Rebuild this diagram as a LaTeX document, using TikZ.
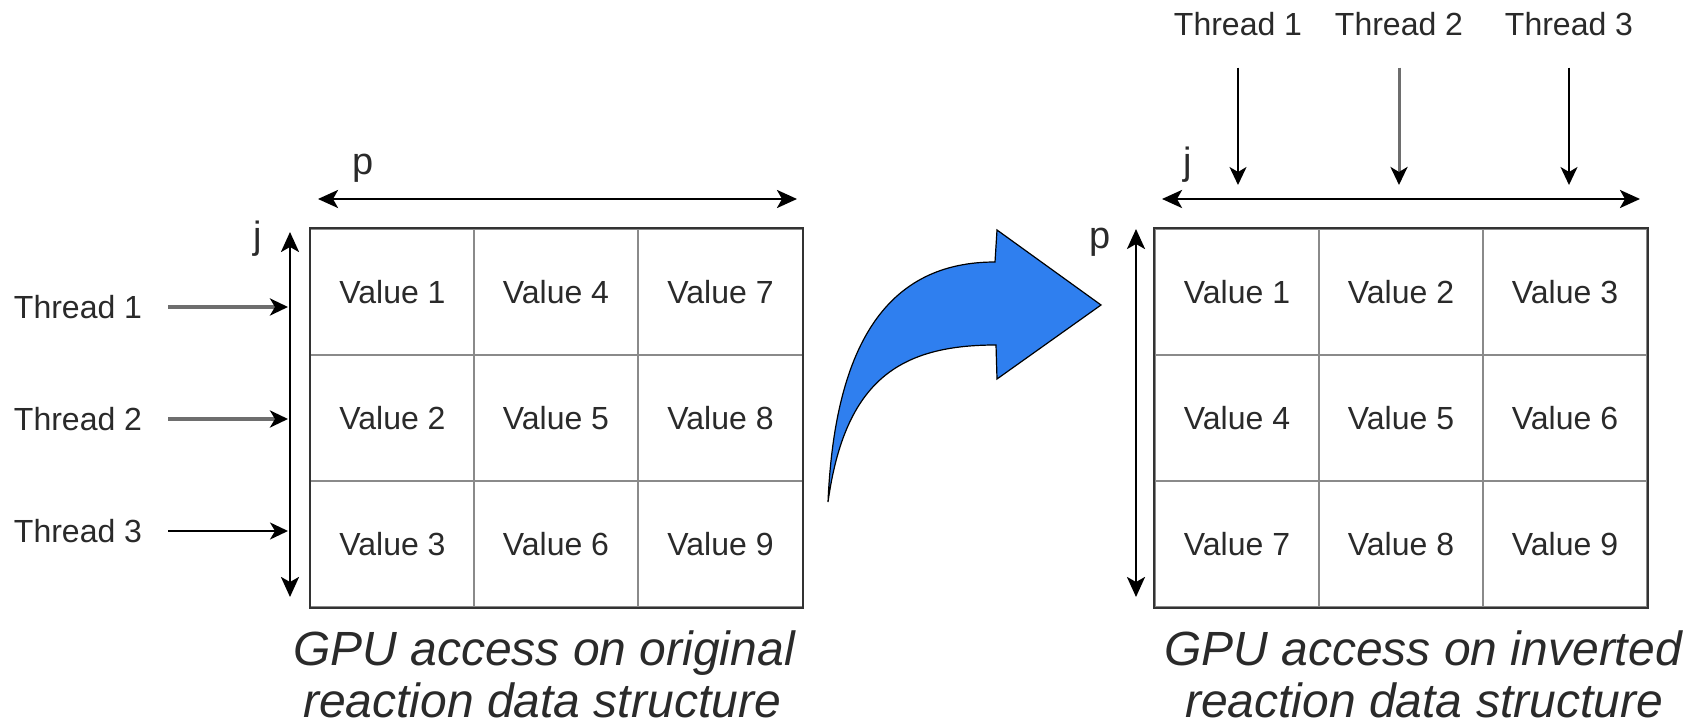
\documentclass[tikz,border=0pt]{standalone}
\usepackage{fontspec}
\setmainfont{Liberation Sans}
\usetikzlibrary{arrows.meta}
\definecolor{txt}{HTML}{2A2A2A}
\definecolor{gridin}{HTML}{8A8A8A}
\definecolor{gridout}{HTML}{333333}
\definecolor{thrgray}{HTML}{6E6E6E}
\definecolor{bigblue}{HTML}{2F7FEF}
\begin{document}
\begin{tikzpicture}[x=0.5pt,y=-0.5pt,
  cell/.style={draw=gridin, line width=0.75pt, minimum width=82pt, minimum height=63pt, inner sep=0pt, text=txt, font=\fontsize{16}{19}\selectfont},
  lbl/.style={text=txt, font=\fontsize{16}{19}\selectfont, inner sep=0pt},
  axlbl/.style={text=txt, font=\fontsize{19}{22}\selectfont, inner sep=0pt, anchor=base},
  captxt/.style={text=txt, font=\fontsize{24}{26}\selectfont\itshape, inner sep=0pt, anchor=base},
  axis/.style={line width=1.4pt, {Stealth[length=10pt,width=9pt,inset=2.5pt]}-{Stealth[length=10pt,width=9pt,inset=2.5pt]}},
  thr/.style={line width=1pt, -{Stealth[length=9pt,width=8.5pt,inset=2.5pt]}},
  thrg/.style={line width=1.8pt, draw=thrgray, -{Stealth[length=9pt,width=8.5pt,inset=2.5pt,color=black]}},
]
\fill[white] (0,0) rectangle (1707,726);

% ---------- left grid ----------
\foreach \r/\y in {1/292,2/418,3/544}{
  \foreach \c/\x in {1/392.5,2/556,3/720.5}{
    \pgfmathtruncatemacro\v{(\c-1)*3+\r}
    \node[cell] (L\r\c) at (\x,\y) {Value \v};
  }
}
\draw[gridout, line width=1.1pt] (L11.north west) rectangle (L33.south east);

% ---------- right grid ----------
\foreach \r/\y in {1/292,2/418,3/544}{
  \foreach \c/\x in {1/1237,2/1401,3/1565}{
    \pgfmathtruncatemacro\v{(\r-1)*3+\c}
    \node[cell] (R\r\c) at (\x,\y) {Value \v};
  }
}
\draw[gridout, line width=1.1pt] (R11.north west) rectangle (R33.south east);

% ---------- left axes ----------
\coordinate (pLa) at (318,199);
\coordinate (pLb) at (797,199);
\draw[axis] (pLa) -- (pLb);
\node[axlbl] (pL) at (363,175) {p};
\coordinate (jLa) at (290,232);
\coordinate (jLb) at (290,597);
\draw[axis] (jLa) -- (jLb);
\node[axlbl] (jL) at (258,249) {j};

% ---------- left threads ----------
\node[lbl] (tl1) at (78,307) {Thread 1};
\node[lbl] (tl2) at (78,419) {Thread 2};
\node[lbl] (tl3) at (78,531) {Thread 3};
\draw[thrg, shorten <=13pt, shorten >=1pt] (tl1.east) -- (tl1.east -| jLa);
\draw[thrg, shorten <=13pt, shorten >=1pt] (tl2.east) -- (tl2.east -| jLa);
\draw[thr, shorten <=13pt, shorten >=1pt] (tl3.east) -- (tl3.east -| jLa);

% ---------- right axes ----------
\coordinate (jRa) at (1162,199);
\coordinate (jRb) at (1640,199);
\draw[axis] (jRa) -- (jRb);
\node[axlbl] (jR) at (1188,175) {j};
\coordinate (pRa) at (1136,229);
\coordinate (pRb) at (1136,597);
\draw[axis] (pRa) -- (pRb);
\node[axlbl] (pR) at (1100,249) {p};

% ---------- top threads ----------
\node[lbl] (tt1) at (1238,24.5) {Thread 1};
\node[lbl] (tt2) at (1399,24.5) {Thread 2};
\node[lbl] (tt3) at (1569,24.5) {Thread 3};
\draw[thr, shorten <=15.5pt, shorten >=7pt] (tt1.south) -- (tt1.south |- jRa);
\draw[thrg, line width=1.5pt, shorten <=15.5pt, shorten >=7pt] (tt2.south) -- (tt2.south |- jRa);
\draw[thr, shorten <=15.5pt, shorten >=7pt] (tt3.south) -- (tt3.south |- jRa);

% ---------- curved transformation arrow ----------
\filldraw[fill=bigblue, draw=black, line width=0.6pt, line join=miter]
  (828,502) .. controls (835,340) and (890,262) .. (995,262)
  -- (997,230) -- (1101,305) -- (997,379) -- (996,345)
  .. controls (900,345) and (845,380) .. (828,502) -- cycle;

% ---------- captions ----------
\node[captxt] (capL1) at (544,665) {GPU access on original};
\node[captxt] (capL2) at (542,717) {reaction data structure};
\node[captxt] (capR1) at (1423,665) {GPU access on inverted};
\node[captxt] (capR2) at (1424,717) {reaction data structure};
\end{tikzpicture}
\end{document}
